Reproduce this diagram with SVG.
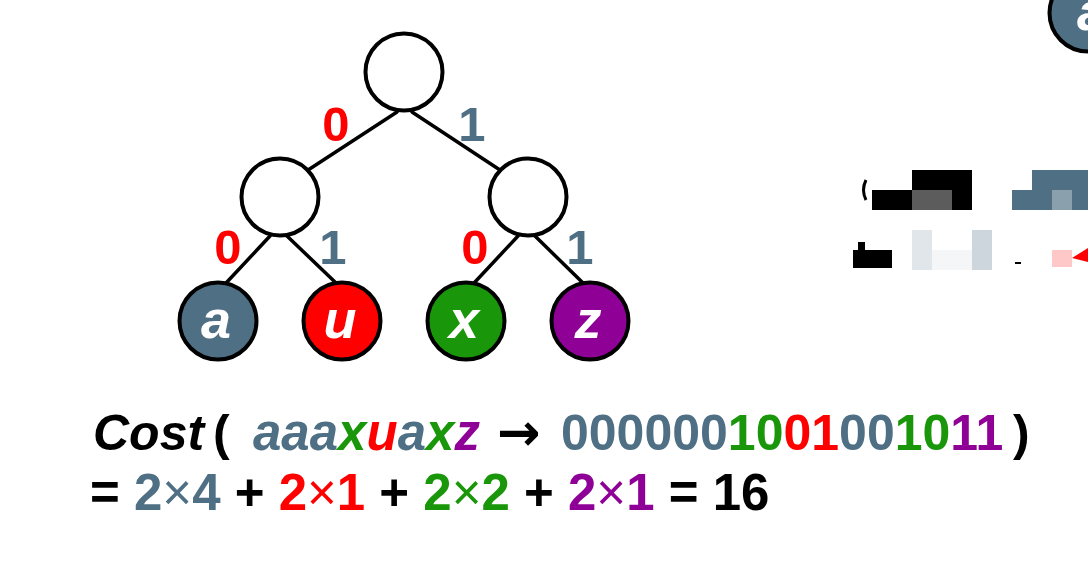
<svg xmlns="http://www.w3.org/2000/svg" width="1088" height="572" viewBox="0 0 1088 572">
<style>
.n{fill:#fff;stroke:#000;stroke-width:4}
.e{stroke:#000;stroke-width:3.5;stroke-linecap:round}
.t{font-family:"Liberation Sans",Arial,sans-serif;font-weight:bold}
.lbl{font-size:49px;text-anchor:middle}
.leaf{font-size:54px;font-style:italic;fill:#fff;text-anchor:middle}
.sl{fill:#4f6f84}.rd{fill:#ff0000}.gr{fill:#1a960a}.pu{fill:#8e0096}
.big{font-size:50px}
.mul{font-weight:normal}
.arr{font-family:"DejaVu Sans",sans-serif;font-weight:bold}
</style>
<rect width="1088" height="572" fill="#fff"/>
<g id="connectors">
<line class="e" x1="397" y1="112" x2="305" y2="172"/>
<line class="e" x1="412" y1="112" x2="503" y2="172"/>
<line class="e" x1="270" y1="236" x2="227" y2="282"/>
<line class="e" x1="287" y1="236" x2="335" y2="282"/>
<line class="e" x1="518" y1="236" x2="475" y2="282"/>
<line class="e" x1="535" y1="236" x2="582" y2="282"/>
</g>
<g id="root"><circle class="n" cx="404" cy="72" r="38.5"/></g>
<g id="left"><circle class="n" cx="280" cy="197" r="38.5"/></g>
<g id="right"><circle class="n" cx="528" cy="197" r="38.5"/></g>
<g id="leaf-a"><circle class="n" cx="218" cy="321" r="38.5" style="fill:#4f6f84"/><text class="t leaf" x="216" y="338">a</text></g>
<g id="leaf-u"><circle class="n" cx="342" cy="321" r="38.5" style="fill:#ff0000"/><text class="t leaf" x="340" y="338">u</text></g>
<g id="leaf-x"><circle class="n" cx="466" cy="321" r="38.5" style="fill:#1a960a"/><text class="t leaf" x="464" y="338">x</text></g>
<g id="leaf-z"><circle class="n" cx="590" cy="321" r="38.5" style="fill:#8e0096"/><text class="t leaf" x="588" y="338">z</text></g>
<g id="edge-labels">
<text class="t lbl rd" x="336" y="141">0</text>
<text class="t lbl sl" x="472" y="141">1</text>
<text class="t lbl rd" x="228" y="264">0</text>
<text class="t lbl sl" x="333" y="264">1</text>
<text class="t lbl rd" x="475" y="264">0</text>
<text class="t lbl sl" x="580" y="264">1</text>
</g>
<g id="cost-line">
<text class="t big" y="450"><tspan x="93" font-style="italic">Cost</tspan><tspan x="213">(</tspan><tspan x="253" font-style="italic" font-size="51"><tspan class="sl">aaa</tspan><tspan class="gr">x</tspan><tspan class="rd">u</tspan><tspan class="sl">a</tspan><tspan class="gr">x</tspan><tspan class="pu">z</tspan></tspan><tspan x="497" class="arr" font-size="52">→</tspan><tspan x="561"><tspan class="sl">000000</tspan><tspan class="gr">10</tspan><tspan class="rd">01</tspan><tspan class="sl">00</tspan><tspan class="gr">10</tspan><tspan class="pu">11</tspan></tspan><tspan x="1013">)</tspan></text>
<text class="t" font-size="51" x="90" y="510">= <tspan class="sl">2<tspan class="mul">×</tspan>4</tspan> + <tspan class="rd">2<tspan class="mul">×</tspan>1</tspan> + <tspan class="gr">2<tspan class="mul">×</tspan>2</tspan> + <tspan class="pu">2<tspan class="mul">×</tspan>1</tspan> = 16</text>
</g>
<g id="fragments">
<circle cx="1088" cy="13" r="38.5" fill="#4f6f84" stroke="#000" stroke-width="4"/>
<text class="t leaf" x="1092" y="30">a</text>
<rect x="872" y="190" width="40" height="20" fill="#000"/>
<rect x="912" y="170" width="40" height="20" fill="#000"/>
<rect x="912" y="190" width="40" height="20" fill="#5c5c5c"/>
<rect x="952" y="170" width="20" height="40" fill="#000"/>
<path d="M866 180 Q861 190 866 200" fill="none" stroke="#000" stroke-width="3"/>
<rect x="1012" y="190" width="76" height="20" fill="#4f6f84"/>
<rect x="1032" y="170" width="56" height="20" fill="#4f6f84"/>
<rect x="1052" y="190" width="20" height="20" fill="#8aa0ad"/>
<rect x="853" y="250" width="39" height="18" fill="#000"/>
<rect x="858" y="242" width="7" height="8" fill="#000"/>
<rect x="912" y="230" width="20" height="40" fill="#e0e6ea"/>
<rect x="932" y="250" width="40" height="20" fill="#f4f6f8"/>
<rect x="972" y="230" width="20" height="40" fill="#cdd6dc"/>
<rect x="1015" y="262" width="6" height="2" fill="#000"/>
<rect x="1052" y="250" width="20" height="17" fill="#ffc8c8"/>
<path d="M1072 258 L1088 248 L1088 262 Z" fill="#ff0000"/>
</g>
</svg>
